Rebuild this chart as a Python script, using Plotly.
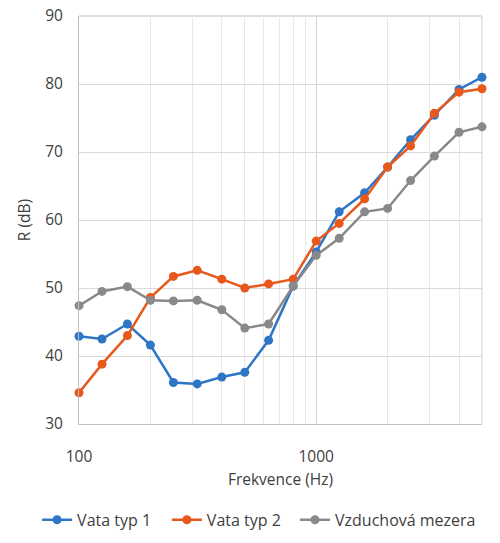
import plotly.graph_objects as go

freq = [100, 125, 160, 200, 250, 315, 400, 500, 630, 800,
        1000, 1250, 1600, 2000, 2500, 3150, 4000, 5000]
vata1 = [42.9, 42.5, 44.7, 41.6, 36.1, 35.9, 36.9, 37.6, 42.3, 50.3,
         55.3, 61.2, 64.0, 67.8, 71.8, 75.4, 79.2, 81.0]
vata2 = [34.6, 38.8, 43.0, 48.6, 51.7, 52.6, 51.3, 50.0, 50.6, 51.3,
         56.9, 59.5, 63.1, 67.8, 70.9, 75.7, 78.8, 79.3]
mezera = [47.4, 49.5, 50.2, 48.2, 48.1, 48.2, 46.8, 44.1, 44.7, 50.3,
          54.8, 57.3, 61.2, 61.7, 65.8, 69.4, 72.9, 73.7]

names = ['Vata typ 1', 'Vata typ 2', 'Vzduchová mezera']
colors = ['#2F75C5', '#E8581C', '#898989']
legend_ids = ['legend2', 'legend3', 'legend4']
legend_x = [-0.104, 0.218, 0.536]

fig = go.Figure()
for name, vals, col, lg in zip(names, [vata1, vata2, mezera], colors, legend_ids):
    fig.add_trace(go.Scatter(
        x=freq, y=vals, name=name, mode='lines+markers',
        line=dict(color=col, width=2.5),
        marker=dict(color=col, size=9),
        cliponaxis=False, legend=lg
    ))

minor_vals = [200, 300, 400, 500, 600, 700, 800, 900, 2000, 3000, 4000]

legend_style = dict(orientation='h', xanchor='left', y=-0.235, yanchor='middle',
                    font=dict(size=16, color='#404040'), itemwidth=30,
                    bgcolor='rgba(0,0,0,0)')

# body has an 8px default margin, so the figure is 8px smaller
fig.update_layout(
    width=492, height=535,
    autosize=False,
    margin=dict(l=71, r=18, t=8, b=119, autoexpand=False),
    plot_bgcolor='white',
    paper_bgcolor='white',
    font=dict(family='Open Sans', size=14, color='#404040'),
    legend2=dict(x=legend_x[0], **legend_style),
    legend3=dict(x=legend_x[1], **legend_style),
    legend4=dict(x=legend_x[2], **legend_style),
    xaxis=dict(
        type='log', range=[2, 3.699],
        tickvals=[100, 1000], ticktext=['100', '1000'],
        showgrid=True, gridcolor='#d4d4d4', gridwidth=1,
        minor=dict(tickvals=minor_vals, showgrid=True,
                   gridcolor='#e8e8e8', gridwidth=1, ticks=''),
        showline=True, linecolor='#bfbfbf', linewidth=1,
        zeroline=False, ticks='', ticklabelstandoff=18,
        tickfont=dict(size=15.5),
        title=dict(text='Frekvence (Hz)', standoff=8,
                   font=dict(size=15.5, color='#404040')),
    ),
    yaxis=dict(
        range=[30, 90], dtick=10,
        showgrid=True, gridcolor='#d9d9d9', gridwidth=1,
        showline=True, linecolor='#bfbfbf', linewidth=1,
        zeroline=False, ticks='', ticklabelstandoff=12,
        ticklabeloverflow='allow',
        tickfont=dict(size=15.5),
        title=dict(text='R (dB)', standoff=10,
                   font=dict(size=15.5, color='#404040')),
    ),
    shapes=[
        dict(type='line', xref='paper', yref='paper', x0=0, x1=1, y0=1, y1=1,
             line=dict(color='#d4d4d4', width=1.5), layer='below'),
        dict(type='line', xref='paper', yref='paper', x0=1, x1=1, y0=0, y1=1,
             line=dict(color='#e0e0e0', width=1.5), layer='below'),
    ],
)

fig.write_html("out.html")
